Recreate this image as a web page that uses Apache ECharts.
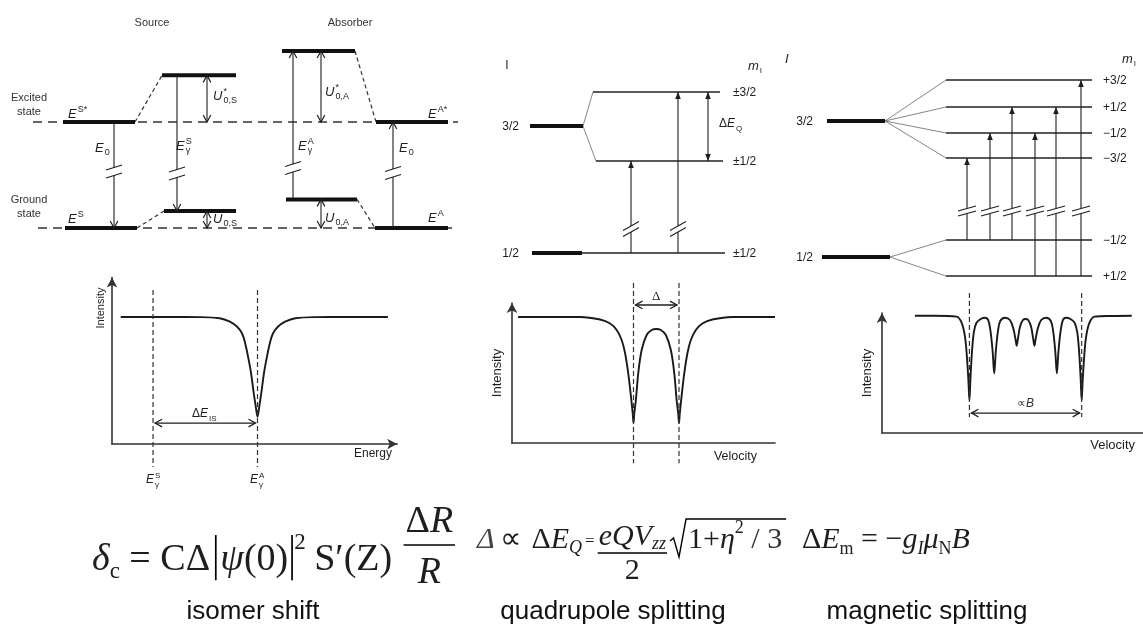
<!DOCTYPE html>
<html>
<head>
<meta charset="utf-8">
<script src="https://cdn.jsdelivr.net/npm/echarts@6.0.0/dist/echarts.min.js"></script>
<style>
html,body{margin:0;padding:0;background:#fff;}
#chart{width:1143px;height:628px;}
</style>
</head>
<body>
<div id="chart"></div>
<script>
// ================= DATA =================
// --- Isomer shift level scheme: energy units (ground = 0, excited = 10), x in scheme columns
const isoRefLevels = [[3.3, 45.8, 10], [3.8, 45.8, 0]];
const isoLevels = [[6.3, 13.5, 10], [6.5, 13.7, 0], [16.2, 23.6, 14.4], [16.4, 23.6, 1.6],
                   [28.2, 35.5, 16.7], [28.6, 35.7, 2.7], [37.6, 44.8, 10], [37.5, 44.8, 0]];
const isoShifts = [[13.5, 10, 16.2, 14.4], [13.7, 0, 16.4, 1.6], [35.5, 16.7, 37.6, 10], [35.7, 2.7, 37.5, 0]];
// [x, from, to, double-headed, break position]
const isoTransitions = [[11.4, 10, 0, 0, 5.33], [17.7, 14.4, 1.6, 0, 5.14], [20.7, 14.4, 10, 1, null],
                        [20.7, 1.6, 0, 1, null], [29.3, 2.7, 16.7, 0, 5.66], [32.1, 16.7, 10, 1, null],
                        [32.1, 2.7, 0, 1, null], [39.3, 0, 10, 0, 5.19]];
const isoSymbols = [[6.8, 10.85, 'E', 'S*', ''], [9.5, 7.64, 'E', '', '0'], [17.6, 7.83, 'E', 'S', 'γ'],
                    [21.3, 12.55, 'U', '*', '0,S'], [6.8, 0.94, 'E', 'S', ''], [21.3, 0.94, 'U', '', '0,S'],
                    [32.5, 12.92, 'U', '*', '0,A'], [29.8, 7.83, 'E', 'A', 'γ'], [42.8, 10.85, 'E', 'A*', ''],
                    [39.9, 7.64, 'E', '', '0'], [32.5, 1.04, 'U', '', '0,A'], [42.8, 1.04, 'E', 'A', '']];
const isoCaptions = [[15.2, 19.46, 'Source'], [35.0, 19.46, 'Absorber'], [2.9, 12.36, 'Excited'],
                     [2.9, 11.04, 'state'], [2.9, 2.74, 'Ground'], [2.9, 1.42, 'state']];

// --- Quadrupole splitting scheme (ground I=1/2 -> 0, I=3/2 -> 10)
const quadSpinLevels = [[7.0, 12.3, 10], [7.2, 12.2, 0]];
const quadSubLevels = [[13.3, 26.0, 12.68], [13.6, 26.3, 7.24], [12.2, 26.5, 0]];
const quadFan = [[12.3, 10, 13.3, 12.68], [12.3, 10, 13.6, 7.24]];
const quadTransitions = [[17.1, 0, 7.24, 0, 1.89], [21.8, 0, 12.68, 0, 1.89], [24.8, 7.24, 12.68, 1, null]];
const quadSpinLabels = [[5.9, 10, '3/2'], [5.9, 0, '1/2']];
const quadMLabels = [[27.3, 12.68, '±3/2'], [27.3, 7.24, '±1/2'], [27.3, 0, '±1/2']];
const quadSymbols = [[25.9, 10.24, 'ΔE', '', 'Q']];
const quadHeaders = [[4.7, 14.8, 'I', '', ''], [28.8, 14.8, 'm', '', 'I']];

// --- Magnetic splitting scheme (ground I=1/2 -> 0, I=3/2 -> 10)
const magSpinLevels = [[4.7, 10.5, 10], [4.2, 11.0, 0]];
const magSubLevels = [[16.6, 31.2, 13.01], [16.6, 31.2, 11.03], [16.6, 31.2, 9.12], [16.6, 31.2, 7.28],
                      [16.6, 31.2, 1.25], [16.6, 31.2, -1.40]];
const magFan = [[10.5, 10, 16.6, 13.01], [10.5, 10, 16.6, 11.03], [10.5, 10, 16.6, 9.12], [10.5, 10, 16.6, 7.28],
                [11.0, 0, 16.6, 1.25], [11.0, 0, 16.6, -1.40]];
const magTransitions = [[18.7, 1.25, 7.28, 0, 3.38], [21.0, 1.25, 9.12, 0, 3.38], [23.2, 1.25, 11.03, 0, 3.38],
                        [25.5, -1.40, 9.12, 0, 3.38], [27.6, -1.40, 11.03, 0, 3.38], [30.1, -1.40, 13.01, 0, 3.38]];
const magSpinLabels = [[3.3, 10, '3/2'], [3.3, 0, '1/2']];
const magMLabels = [[32.3, 13.01, '+3/2'], [32.3, 11.03, '+1/2'], [32.3, 9.12, '−1/2'], [32.3, 7.28, '−3/2'],
                    [32.3, 1.25, '−1/2'], [32.3, -1.40, '+1/2']];
const magHeaders = [[0.5, 14.61, 'I', '', ''], [34.2, 14.61, 'm', '', 'I']];

// --- Spectra: [energy/velocity, intensity (baseline = 100)]
const isoSpectrum = [[3, 100], [20, 100], [30, 99.9], [37, 99], [40.5, 96.3], [43, 92.3], [44.7, 87], [45.8, 79],
  [46.9, 67], [47.8, 55.5], [48.7, 40], [49.4, 29.5], [50, 21.5], [50.6, 29.5], [51.3, 40], [52.2, 55.5],
  [53.1, 67], [54.2, 79], [55.3, 87], [57, 92.3], [59.5, 96.3], [63, 99], [70, 99.9], [80, 100], [94.8, 100]];
const quadSpectrum = [[2.3, 100], [15, 100], [25.9, 100], [33.5, 98], [37.3, 94.8], [39.8, 89.7], [41.7, 81.7],
  [43, 71.2], [44.2, 55.3], [45.1, 39.4], [45.9, 23.5], [46.2, 16], [46.5, 23.5], [47.1, 34], [48, 55.3],
  [49.3, 73.8], [51.2, 85.7], [53.1, 89.7], [54.85, 90.5], [56.6, 89.7], [58.5, 85.7], [60.4, 73.8],
  [61.7, 55.3], [62.6, 34], [63.2, 23.5], [63.5, 16], [63.8, 23.5], [64.6, 39.4], [65.5, 55.3], [66.7, 71.2],
  [68, 81.7], [69.9, 89.7], [72.4, 94.8], [76.2, 98], [83.8, 100], [100, 100]];
const magSpectrum = [[12.6, 100], [20, 100], [28.6, 99.2], [30.5, 94], [31.8, 82], [32.5, 66], [33.1, 45],
  [33.5, 28], [33.9, 47], [34.5, 70], [35.2, 86], [36.2, 94], [37.8, 97.2], [39.5, 98.3], [40.7, 96.3],
  [41.6, 86.4], [42.4, 69.3], [43.0, 50.9], [43.6, 69.3], [44.4, 86.4], [45.3, 95.5], [47.1, 98.3],
  [49.0, 96.3], [50.3, 89.2], [51.2, 79.3], [51.6, 74.4], [52.1, 80.7], [52.9, 90.7], [54.0, 96.3],
  [55.0, 97.2], [56.0, 96.3], [57.1, 90.7], [57.9, 80.7], [58.4, 74.4], [58.8, 79.3], [59.7, 89.2],
  [61.0, 96.3], [62.9, 98.3], [64.7, 95.5], [65.6, 86.4], [66.4, 69.3], [67.0, 50.9], [67.6, 69.3],
  [68.4, 86.4], [69.3, 96.3], [70.5, 98.3], [72.2, 97.2], [73.8, 94], [74.8, 86], [75.5, 70], [76.1, 47],
  [76.5, 28], [76.9, 45], [77.5, 66], [78.2, 82], [79.5, 94], [81.4, 99.2], [88, 99.8], [95.7, 100]];
const isoMarkers = [14.1, 50];
const quadMarkers = [46.2, 63.5];
const magMarkers = [33.5, 76.5];
const isoSpecLabels = [[27.5, 24.4, 'ΔE', '', 'IS']];
const isoLineLabels = [[11.7, -27.6, 'E', 'S', 'γ'], [47.4, -27.6, 'E', 'A', 'γ']];
const quadSpecLabels = [[54.85, 117.5, 'Δ', '', '']];
const magSpecLabels = [[51.7, 25.6, '∝B', '', '']];

// ================= DRAWING HELPERS =================
const INK = '#1e1e1e';
const SANS = '"Liberation Sans", Arial, sans-serif';
const SERIF = '"Liberation Serif", "Times New Roman", serif';
const mctx = document.createElement('canvas').getContext('2d');
function fstr(sz, fam, it) { return (it ? 'italic ' : '') + sz + 'px ' + fam; }
function tw(t, sz, fam, it) { mctx.font = fstr(sz, fam, it); return mctx.measureText(t).width; }
function boff(sz, fam, it) {
  mctx.font = fstr(sz, fam, it); mctx.textBaseline = 'middle';
  const d = mctx.measureText('H').actualBoundingBoxDescent; mctx.textBaseline = 'alphabetic'; return d;
}
function txt(x, base, t, sz, fam, it, fill, align) {
  return {type: 'text', x: x, y: base - boff(sz, fam, it), silent: true,
    style: {text: t, fontSize: sz, fontFamily: fam, fontStyle: it ? 'italic' : 'normal', fill: fill || INK,
            align: align || 'left', verticalAlign: 'middle'}};
}
function seg(a, b, w, c, dash) {
  return {type: 'line', silent: true, shape: {x1: a[0], y1: a[1], x2: b[0], y2: b[1]},
    style: {stroke: c || INK, lineWidth: w, lineDash: dash || null, fill: null}};
}
function chevron(tip, from, len, hw, w) {
  const dx = tip[0] - from[0], dy = tip[1] - from[1], L = Math.hypot(dx, dy) || 1, ux = dx / L, uy = dy / L;
  return {type: 'polyline', silent: true, shape: {points: [[tip[0] - ux * len - uy * hw, tip[1] - uy * len + ux * hw], tip,
    [tip[0] - ux * len + uy * hw, tip[1] - uy * len - ux * hw]]}, style: {stroke: INK, lineWidth: w || 1.2, fill: null}};
}
function triangle(tip, from, len, hw) {
  const dx = tip[0] - from[0], dy = tip[1] - from[1], L = Math.hypot(dx, dy) || 1, ux = dx / L, uy = dy / L;
  return {type: 'polygon', silent: true, shape: {points: [[tip[0] - ux * len - uy * hw, tip[1] - uy * len + ux * hw], tip,
    [tip[0] - ux * len + uy * hw, tip[1] - uy * len - ux * hw]]}, style: {fill: INK, stroke: null}};
}
const UPRIGHT = /[Δ∝0-9±−+\/ ]/;
function mathLabel(x, cy, main, sup, sub, o) {
  const S = o.size, s = o.small || Math.round(S * 0.7), fam = o.fam || SANS, fill = o.fill || INK;
  const base = cy + 0.36 * S;
  const runs = [];
  for (const ch of main) {
    const it = !!o.it && !UPRIGHT.test(ch);
    if (runs.length && runs[runs.length - 1].it === it) runs[runs.length - 1].t += ch; else runs.push({t: ch, it: it});
  }
  let wm = 0; runs.forEach(r => { r.w = tw(r.t, S, fam, r.it); wm += r.w; });
  const ws = sup ? tw(sup, s, fam, false) : 0, wb = sub ? tw(sub, s, fam, false) : 0;
  const tot = wm + ((sup || sub) ? 1 + Math.max(ws, wb) : 0);
  const x0 = o.align === 'right' ? x - tot : o.align === 'center' ? x - tot / 2 : x;
  const out = []; let cx = x0;
  runs.forEach(r => { out.push(txt(cx, base, r.t, S, fam, r.it, fill)); cx += r.w; });
  if (sup) out.push(txt(cx + 1, base - 0.45 * S, sup, s, fam, false, fill));
  if (sub) out.push(txt(cx + 1, base + 0.27 * S, sub, s, fam, false, fill));
  return out;
}

// ================= SERIES BUILDERS =================
function levelSeries(gi, arr, w, color, dash, z) {
  return {type: 'custom', xAxisIndex: gi, yAxisIndex: gi, silent: true, z: z || 3, data: arr,
    renderItem: (p, api) => { const d = arr[p.dataIndex];
      return seg(api.coord([d[0], d[2]]), api.coord([d[1], d[2]]), w, color, dash); }};
}
function linkSeries(gi, arr, w, color, dash, z) {
  return {type: 'custom', xAxisIndex: gi, yAxisIndex: gi, silent: true, z: z || 2, data: arr,
    renderItem: (p, api) => { const d = arr[p.dataIndex];
      return seg(api.coord([d[0], d[1]]), api.coord([d[2], d[3]]), w, color, dash); }};
}
function transitionSeries(gi, arr, head, brk) {
  return {type: 'custom', xAxisIndex: gi, yAxisIndex: gi, silent: true, z: 4, data: arr.map(r => [r[0], r[1], r[2]]),
    renderItem: (p, api) => {
      const r = arr[p.dataIndex];
      const p1 = api.coord([r[0], r[1]]), p2 = api.coord([r[0], r[2]]);
      const ch = [], lw = 1.1;
      if (r[4] !== null) {
        const pb = api.coord([r[0], r[4]]), dir = Math.sign(p2[1] - p1[1]);
        const ya = pb[1] - dir * brk.gap / 2, yb = pb[1] + dir * brk.gap / 2;
        ch.push(seg(p1, [p1[0], ya], lw)); ch.push(seg([p1[0], yb], p2, lw));
        [ya, yb].forEach(y => ch.push(seg([p1[0] - brk.hw, y + brk.hd], [p1[0] + brk.hw, y - brk.hd], 1.1)));
      } else ch.push(seg(p1, p2, lw));
      if (head === 'tri') {
        ch.push(triangle(p2, p1, 7, 2.8)); if (r[3]) ch.push(triangle(p1, p2, 7, 2.8));
      } else {
        ch.push(chevron(p2, p1, 7, 3.8)); if (r[3]) ch.push(chevron(p1, p2, 7, 3.8));
      }
      return {type: 'group', children: ch};
    }};
}
function labelSeries(gi, arr, opts) {
  return {type: 'custom', xAxisIndex: gi, yAxisIndex: gi, silent: true, z: 5, data: arr.map(r => [r[0], r[1]]),
    renderItem: (p, api) => { const r = arr[p.dataIndex]; const c = api.coord([r[0], r[1]]);
      return {type: 'group', children: mathLabel(c[0], c[1], r[2], r[3] || '', r[4] || '', opts)}; }};
}
function markerSeries(gi, xs, yTop, yBot) {
  return {type: 'custom', xAxisIndex: gi, yAxisIndex: gi, silent: true, z: 4, data: xs.map(x => [x]),
    renderItem: (p, api) => { const x = xs[p.dataIndex];
      return seg(api.coord([x, yTop]), api.coord([x, yBot]), 1.2, '#333', [5, 3]); }};
}
function spanSeries(gi, xs, y) {
  return {type: 'custom', xAxisIndex: gi, yAxisIndex: gi, silent: true, z: 4, data: [[xs[0], y]],
    renderItem: (p, api) => {
      const a = api.coord([xs[0], y]), b = api.coord([xs[1], y]);
      a[0] += 2; b[0] -= 2;
      return {type: 'group', children: [seg(a, b, 1.3), chevron(a, b, 7, 3.8, 1.3), chevron(b, a, 7, 3.8, 1.3)]};
    }};
}
function spectrumSeries(gi, data) {
  return {type: 'line', xAxisIndex: gi, yAxisIndex: gi, data: data, showSymbol: false, smooth: 0.35,
    silent: true, z: 3, lineStyle: {color: '#1a1a1a', width: 1.9}};
}
function hiddenX(gi, min, max) { return {type: 'value', gridIndex: gi, min, max, show: false}; }
function hiddenY(gi, min, max) { return {type: 'value', gridIndex: gi, min, max, show: false}; }
function specX(gi, max, arrow, name, gap, padTop, fs) {
  return {type: 'value', gridIndex: gi, min: 0, max, name, nameLocation: 'end', nameGap: gap,
    nameTextStyle: {color: INK, fontFamily: SANS, fontSize: fs, align: 'right', verticalAlign: 'top', padding: [padTop, 0, 0, 0]},
    axisLine: {show: true, onZero: false, symbol: arrow ? ['none', 'arrow'] : ['none', 'none'], symbolSize: [8, 10],
      lineStyle: {color: '#333', width: 1.6}},
    axisTick: {show: false}, axisLabel: {show: false}, splitLine: {show: false}};
}
function specY(gi, max) {
  return {type: 'value', gridIndex: gi, min: 0, max,
    axisLine: {show: true, onZero: false, symbol: ['none', 'arrow'], symbolSize: [8, 10], lineStyle: {color: '#333', width: 1.6}},
    axisTick: {show: false}, axisLabel: {show: false}, splitLine: {show: false}};
}

// ================= FORMULAS =================
function builder(fam) {
  const f = {el: [], x: 0};
  f.put = (t, sz, it, base, fill) => { f.el.push(txt(f.x, base, t, sz, fam, it, fill)); f.x += tw(t, sz, fam, it); };
  f.skip = d => { f.x += d; };
  f.line = (x1, y1, x2, y2, w) => { f.el.push(seg([x1, y1], [x2, y2], w, '#000')); };
  return f;
}
function formula1() {
  const S = 38, s = 23, B = 570, f = builder(SERIF);
  f.put('δ', S, true, B); f.put('c', s, false, B + 8);
  f.skip(S * 0.25); f.put('=', S, false, B); f.skip(S * 0.25);
  f.put('CΔ', S, false, B); f.skip(S * 0.15);
  f.line(f.x, B - S * 0.92, f.x, B + S * 0.27, 1.7); f.skip(S * 0.12);
  f.put('ψ', S, true, B); f.put('(0)', S, false, B); f.skip(S * 0.1);
  f.line(f.x, B - S * 0.92, f.x, B + S * 0.27, 1.7); f.skip(S * 0.06);
  f.put('2', s, false, B - S * 0.55); f.skip(S * 0.22);
  f.put('S′(Z)', S, false, B); f.skip(S * 0.3);
  const wn = tw('Δ', S, SERIF, false) + tw('R', S, SERIF, true), wd = tw('R', S, SERIF, true);
  const bw = Math.max(wn, wd) + S * 0.1, x0 = f.x, by = B - 25;
  f.line(x0, by, x0 + bw, by, 1.6);
  f.x = x0 + (bw - wn) / 2; f.put('Δ', S, false, by - 13); f.put('R', S, true, by - 13);
  f.x = x0 + (bw - wd) / 2; f.put('R', S, true, by + 38);
  return {type: 'group', x: 92, y: 0, children: f.el};
}
function formula2() {
  const S = 30, s = 18, B = 548, f = builder(SERIF);
  f.put('Δ', S, true, B, '#444'); f.skip(S * 0.18); f.put('∝', S, false, B); f.skip(S * 0.35);
  f.put('Δ', S, false, B); f.put('E', S, true, B); f.put('Q', s, true, B + 5);
  f.skip(3); f.put('=', 17, false, B - 2); f.skip(3);
  const wn = tw('eQV', S, SERIF, true) + tw('zz', s, SERIF, true), wd = tw('2', S, SERIF, false);
  const bw = wn + 2, x0 = f.x, by = B + 5;
  f.line(x0, by, x0 + bw, by, 1.3);
  f.x = x0 + 1; f.put('eQV', S, true, B - 3); f.put('zz', s, true, B + 1);
  f.x = x0 + (bw - wd) / 2; f.put('2', S, false, B + 31);
  f.x = x0 + bw + 3;
  const rx = f.x;
  const wr = tw('1+', S, SERIF, false) + tw('η', S, SERIF, true) + tw('2', s, SERIF, false) + tw(' / 3', S, SERIF, false) + 4;
  f.el.push({type: 'polyline', silent: true, shape: {points: [[rx, B - 7], [rx + 3.5, B - 10], [rx + 9, B + 9], [rx + 16, B - 29], [rx + 18 + wr, B - 29]]},
    style: {stroke: '#000', lineWidth: 1.4, fill: null}});
  f.x = rx + 18; f.put('1+', S, false, B); f.put('η', S, true, B); f.put('2', s, false, B - 15);
  f.put(' / 3', S, false, B, '#333');
  return {type: 'group', x: 477, y: 0, children: f.el};
}
function formula3() {
  const S = 30, s = 18, B = 548, f = builder(SERIF);
  f.put('Δ', S, false, B); f.put('E', S, true, B); f.put('m', s, false, B + 6);
  f.skip(S * 0.25); f.put('=', S, false, B); f.skip(S * 0.25);
  f.put('−', S, false, B); f.put('g', S, true, B); f.put('I', s, true, B + 6);
  f.put('μ', S, true, B); f.put('N', s, false, B + 6); f.put('B', S, true, B);
  return {type: 'group', x: 802, y: 0, children: f.el};
}
function rotText(x, y, t, fs) {
  return {type: 'text', x, y, rotation: Math.PI / 2, silent: true,
    style: {text: t, fontSize: fs, fontFamily: SANS, fill: INK, align: 'center', verticalAlign: 'middle'}};
}
function caption(x, y, t) {
  return {type: 'text', x, y, silent: true, style: {text: t, fontSize: 26, fontFamily: SANS, fill: '#111', align: 'center', verticalAlign: 'middle'}};
}

// ================= OPTION =================
const chart = echarts.init(document.getElementById('chart'), null, {renderer: 'canvas'});
const G = (left, top, width, height) => ({left, top, width, height, containLabel: false, outerBoundsMode: 'none'});
const option = {
  animation: false,
  backgroundColor: '#fff',
  grid: [G(0, 37.2, 460, 212), G(460, 49.8, 340, 228.6), G(780, 39.4, 363, 258.4),
         G(112, 277.6, 285.2, 166.4), G(512, 303.1, 263, 139.9), G(882, 313, 261, 120)],
  xAxis: [hiddenX(0, 0, 46), hiddenX(1, 0, 34), hiddenX(2, 0, 36.3),
          specX(3, 98, true, 'Energy', -5.2, 4, 12), specX(4, 100, false, 'Velocity', -18, 7, 12.5),
          specX(5, 100, false, 'Velocity', -8, 6, 13)],
  yAxis: [hiddenY(0, -2, 18), hiddenY(1, -2, 16), hiddenY(2, -3, 16), specY(3, 131), specY(4, 111), specY(5, 102.3)],
  series: [
    // isomer shift scheme
    levelSeries(0, isoRefLevels, 1.3, '#333', [9, 6], 1),
    linkSeries(0, isoShifts, 1.2, '#333', [4, 3]),
    levelSeries(0, isoLevels, 4, '#111'),
    transitionSeries(0, isoTransitions, 'chev', {gap: 8, hw: 8, hd: 2.5}),
    labelSeries(0, isoSymbols, {size: 13, small: 9, it: true}),
    labelSeries(0, isoCaptions, {size: 11, align: 'center', fill: '#333'}),
    // quadrupole scheme
    linkSeries(1, quadFan, 0.9, '#777'),
    levelSeries(1, quadSubLevels, 1.4, '#222'),
    levelSeries(1, quadSpinLevels, 4, '#111'),
    transitionSeries(1, quadTransitions, 'tri', {gap: 6, hw: 8, hd: 4.5}),
    labelSeries(1, quadSpinLabels, {size: 12, align: 'right'}),
    labelSeries(1, quadMLabels, {size: 12}),
    labelSeries(1, quadSymbols, {size: 12, small: 8, it: true}),
    labelSeries(1, quadHeaders.slice(0, 1), {size: 12, align: 'center'}),
    labelSeries(1, quadHeaders.slice(1), {size: 13, small: 8, it: true}),
    // magnetic scheme
    linkSeries(2, magFan, 0.9, '#777'),
    levelSeries(2, magSubLevels, 1.4, '#222'),
    levelSeries(2, magSpinLevels, 4, '#111'),
    transitionSeries(2, magTransitions, 'tri', {gap: 5, hw: 9, hd: 2.5}),
    labelSeries(2, magSpinLabels, {size: 12, align: 'right'}),
    labelSeries(2, magMLabels, {size: 12}),
    labelSeries(2, magHeaders, {size: 13, small: 8, it: true}),
    // spectra
    spectrumSeries(3, isoSpectrum),
    markerSeries(3, isoMarkers, 121.3, -18.1),
    spanSeries(3, isoMarkers, 16.5),
    labelSeries(3, isoSpecLabels, {size: 12, small: 8, it: true}),
    labelSeries(3, isoLineLabels, {size: 12, small: 8, it: true}),
    spectrumSeries(4, quadSpectrum),
    markerSeries(4, quadMarkers, 127, -16),
    spanSeries(4, quadMarkers, 109.5),
    labelSeries(4, quadSpecLabels, {size: 13, fam: SERIF, align: 'center'}),
    spectrumSeries(5, magSpectrum),
    markerSeries(5, magMarkers, 119.4, 13.6),
    spanSeries(5, magMarkers, 17),
    labelSeries(5, magSpecLabels, {size: 12, it: true, fill: '#333'})
  ],
  graphic: {elements: [
    rotText(101, 308, 'Intensity', 11), rotText(497, 373, 'Intensity', 13), rotText(867, 373, 'Intensity', 13),
    formula1(), formula2(), formula3(),
    caption(253, 612, 'isomer shift'), caption(613, 612, 'quadrupole splitting'), caption(927, 612, 'magnetic splitting')
  ]}
};
chart.setOption(option);
</script>
</body>
</html>
